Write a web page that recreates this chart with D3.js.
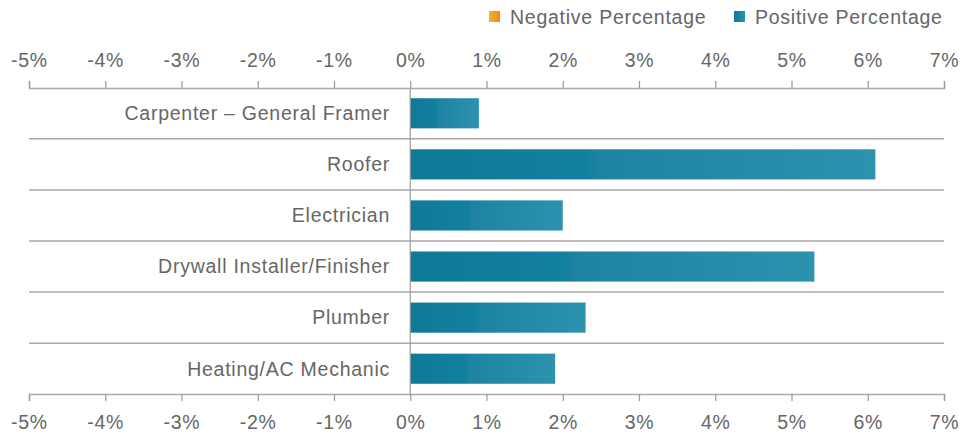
<!DOCTYPE html>
<html>
<head>
<meta charset="utf-8">
<script src="https://cdn.jsdelivr.net/npm/d3@7"></script>
<style>
  body { margin: 0; background: #fff; }
  text { font-family: "Liberation Sans", Arial, sans-serif; fill: #666; letter-spacing: 0.75px; }
</style>
</head>
<body>
<script>
// chart data
var categories = ["Carpenter \u2013 General Framer", "Roofer", "Electrician",
                  "Drywall Installer/Finisher", "Plumber", "Heating/AC Mechanic"];
var values = [0.9, 6.1, 2.0, 5.3, 2.3, 1.9];
var tickValues = [-5, -4, -3, -2, -1, 0, 1, 2, 3, 4, 5, 6, 7];
var legendLabels = ["Negative Percentage", "Positive Percentage"];

var width = 961, height = 435;
var axisTop = 88, axisBottom = 394;
var fontSize = "19.5px";

var svg = d3.select("body").append("svg")
    .attr("width", width)
    .attr("height", height);

var defs = svg.append("defs");
// bar gradient (teal)
var pos = defs.append("linearGradient").attr("id", "posGrad");
pos.append("stop").attr("offset", "0%").attr("stop-color", "#0e7a97");
pos.append("stop").attr("offset", "38%").attr("stop-color", "#12809f");
pos.append("stop").attr("offset", "40%").attr("stop-color", "#1d83a0");
pos.append("stop").attr("offset", "100%").attr("stop-color", "#2c92ae");
// legend gradient (orange)
var neg = defs.append("linearGradient").attr("id", "negGrad");
neg.append("stop").attr("offset", "0%").attr("stop-color", "#f9b41c");
neg.append("stop").attr("offset", "100%").attr("stop-color", "#ef8a1d");

var x = d3.scaleLinear().domain([-5, 7]).range([29, 944]);
var y = d3.scaleBand().domain(categories).range([axisTop, axisBottom])
    .paddingInner(0.41).paddingOuter(0.2);

// row separators
var sepY = categories.slice(1).map(function(c) { return y(c) - y.step() * y.paddingInner() / 2; });
svg.selectAll("line.sep").data(sepY).enter().append("line")
    .attr("class", "sep")
    .attr("x1", x(-5)).attr("x2", x(7))
    .attr("y1", function(d) { return d; }).attr("y2", function(d) { return d; })
    .attr("stroke", "#a9a9a9").attr("stroke-width", 1.5);

// bars
svg.selectAll("rect.bar").data(values).enter().append("rect")
    .attr("class", "bar")
    .attr("x", function(d) { return x(Math.min(0, d)); })
    .attr("y", function(d, i) { return y(categories[i]); })
    .attr("width", function(d) { return Math.abs(x(d) - x(0)); })
    .attr("height", y.bandwidth())
    .attr("fill", function(d) { return d < 0 ? "url(#negGrad)" : "url(#posGrad)"; });

// zero line
svg.append("line")
    .attr("x1", x(0)).attr("x2", x(0))
    .attr("y1", axisTop).attr("y2", axisBottom)
    .attr("stroke", "#999").attr("stroke-width", 1.2);

// category labels
svg.selectAll("text.cat").data(categories).enter().append("text")
    .attr("class", "cat")
    .attr("x", 390)
    .attr("y", function(d) { return y(d) + y.bandwidth() / 2; })
    .attr("dy", "0.35em")
    .attr("text-anchor", "end")
    .style("font-size", fontSize)
    .text(function(d) { return d; });

// axes
var fmt = function(d) { return d + "%"; };
var topAxisG = svg.append("g").attr("transform", "translate(0," + axisTop + ")")
    .call(d3.axisTop(x).tickValues(tickValues).tickFormat(fmt).tickSize(7).tickPadding(14));
var bottomAxisG = svg.append("g").attr("transform", "translate(0," + axisBottom + ")")
    .call(d3.axisBottom(x).tickValues(tickValues).tickFormat(fmt).tickSize(7).tickPadding(14));

[topAxisG, bottomAxisG].forEach(function(g) {
  g.select(".domain").attr("stroke", "#a9a9a9").attr("stroke-width", 1.5);
  g.selectAll(".tick line").attr("stroke", "#999").attr("stroke-width", 1.2);
  g.selectAll(".tick text").style("font-size", fontSize)
    .style("font-family", "'Liberation Sans', Arial, sans-serif").attr("fill", "#666");
});

// legend
var legend = svg.append("g");
var lx = [489, 734];
legendLabels.forEach(function(l, i) {
  legend.append("rect")
      .attr("x", lx[i]).attr("y", 11).attr("width", 11).attr("height", 11)
      .attr("fill", i === 0 ? "url(#negGrad)" : "url(#posGrad)");
  legend.append("text")
      .attr("x", lx[i] + 21).attr("y", 17).attr("dy", "0.35em")
      .style("font-size", fontSize)
      .text(l);
});
</script>
</body>
</html>
